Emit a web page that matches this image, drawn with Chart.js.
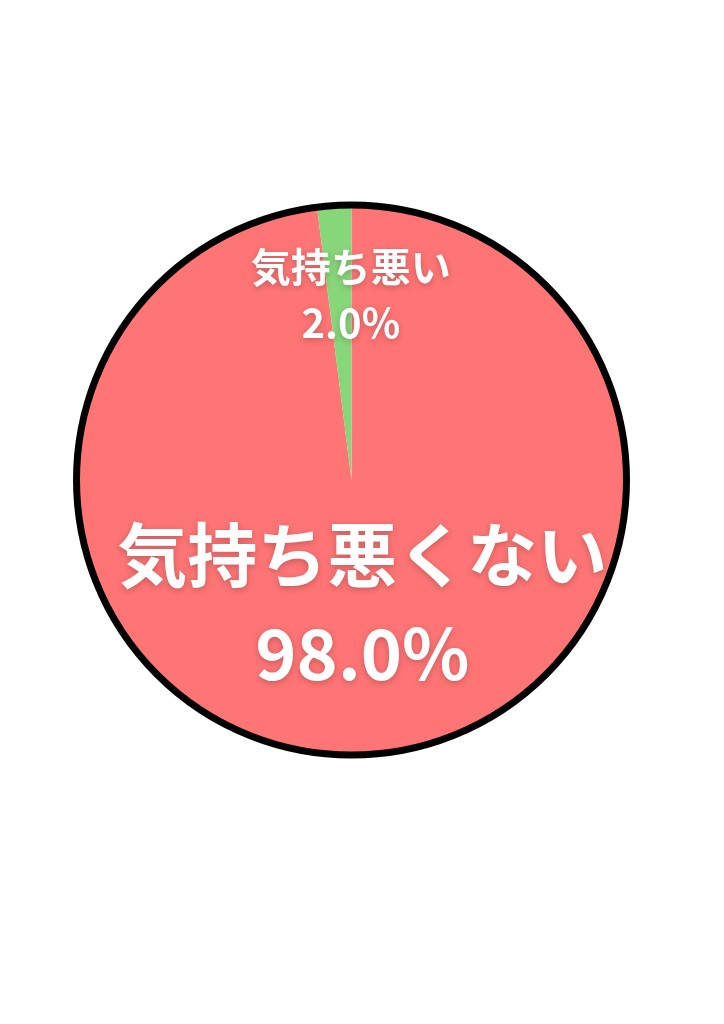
<!DOCTYPE html>
<html>
<head>
<meta charset="utf-8">
<script src="https://cdn.jsdelivr.net/npm/chart.js@4/dist/chart.umd.min.js"></script>
<style>
  html, body { margin: 0; padding: 0; background: #fff; }
  #wrap { width: 724px; height: 1024px; }
</style>
</head>
<body>
<div id="wrap"><canvas id="pie" width="724" height="1024"></canvas></div>
<script>
var labels = ['気持ち悪くない', '気持ち悪い'];
var values = [98.0, 2.0];
var colors = ['rgb(255, 116, 116)', 'rgb(136, 214, 122)'];

// labels inside the slices: name on one line, percent below
var sliceLabels = {
  id: 'sliceLabels',
  afterDatasetsDraw: function (chart, args, opts) {
    var ctx = chart.ctx;
    var meta = chart.getDatasetMeta(0);
    var data = chart.data.datasets[0].data;
    var total = data.reduce(function (a, b) { return a + b; }, 0);

    // black ring round the pie
    var first = meta.data[0];
    ctx.save();
    ctx.beginPath();
    ctx.arc(first.x, first.y, first.outerRadius, 0, Math.PI * 2);
    ctx.lineWidth = opts.ringWidth;
    ctx.strokeStyle = '#000';
    ctx.stroke();
    ctx.restore();

    meta.data.forEach(function (arc, i) {
      var s = opts.styles[i];
      var mid = (arc.startAngle + arc.endAngle) / 2;
      var d = arc.outerRadius * s.factor;
      var x = arc.x + Math.cos(mid) * d + s.dx;
      var y = arc.y + Math.sin(mid) * d;
      var pct = (data[i] / total * 100).toFixed(1) + '%';
      var lh = s.size * 1.4;

      ctx.save();
      ctx.font = 'bold ' + s.size + 'px "Noto Sans CJK JP", "Noto Sans", sans-serif';
      ctx.fillStyle = '#fff';
      ctx.textAlign = 'center';
      ctx.textBaseline = 'middle';
      ctx.shadowColor = 'rgba(0, 0, 0, 0.22)';
      ctx.shadowBlur = 6;
      ctx.shadowOffsetY = 2;
      ctx.fillText(chart.data.labels[i], x, y - lh / 2);
      ctx.fillText(pct, x, y + lh / 2);
      ctx.restore();
    });
  }
};

var ctx = document.getElementById('pie').getContext('2d');
var chart = new Chart(ctx, {
  type: 'pie',
  data: {
    labels: labels,
    datasets: [{
      data: values,
      backgroundColor: colors,
      borderWidth: 0
    }]
  },
  options: {
    responsive: false,
    animation: false,
    layout: {
      padding: { left: 76.5, right: 97.5, top: 205, bottom: 269 }
    },
    plugins: {
      legend: { display: false },
      tooltip: { enabled: false },
      sliceLabels: {
        ringWidth: 7,
        styles: [
          { size: 70, factor: 0.453, dx: 3 },
          { size: 40, factor: 0.674, dx: 11 }
        ]
      }
    }
  },
  plugins: [sliceLabels]
});
</script>
</body>
</html>
